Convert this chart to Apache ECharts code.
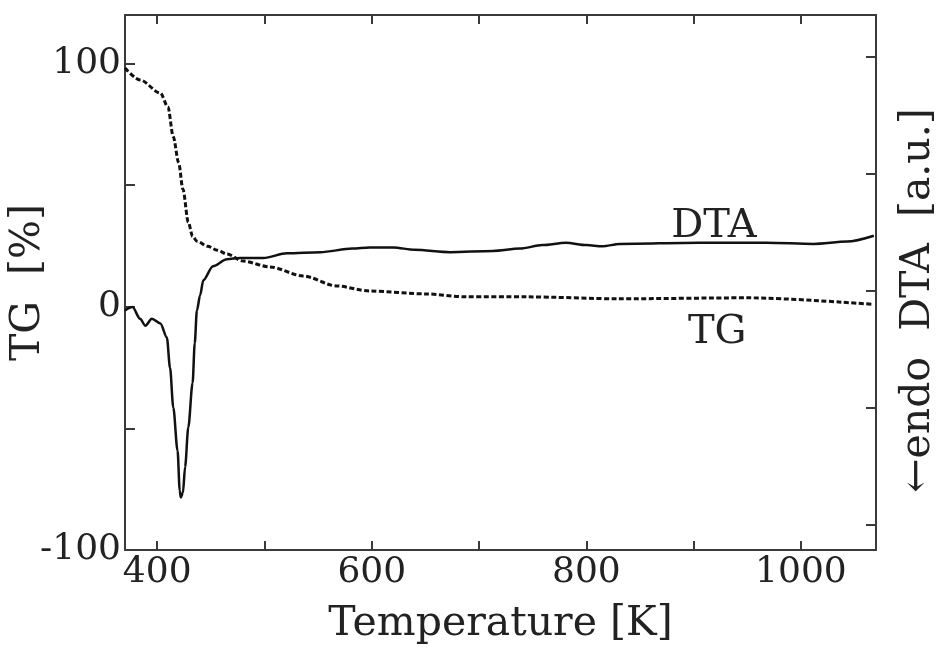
<!DOCTYPE html>
<html>
<head>
<meta charset="utf-8">
<script src="https://cdn.jsdelivr.net/npm/echarts@6/dist/echarts.min.js"></script>
<style>
  html, body { margin: 0; padding: 0; background: #fff; }
  #chart { width: 939px; height: 651px; }
</style>
</head>
<body>
<div id="chart"></div>
<script>
// TG curve (dashed), temperature in K, mass in %
var tgTemp = [370, 384, 403, 410, 415, 420, 424, 429, 433, 437, 447, 456, 465, 480, 505, 536, 567, 598, 651, 688, 744, 831, 950, 1068];
var tgValue = [98.2, 93.3, 87.9, 82.2, 69.9, 59.3, 48.3, 34.8, 29.0, 27.0, 24.9, 23.3, 21.7, 18.8, 16.4, 12.7, 8.6, 6.5, 5.3, 4.1, 4.1, 3.3, 3.7, 1.0];

// DTA curve (solid), arbitrary units on the right axis
var dtaTemp = [370, 377, 384, 389, 395, 403, 409, 412, 415, 419, 421, 422, 424, 426, 429, 433, 435, 437, 440, 443, 452, 465, 477, 499, 521, 552, 582, 598, 620, 640, 673, 713, 738, 759, 781, 800, 815, 831, 905, 968, 1012, 1043, 1068];
var dtaValue = [1.83, 1.86, 1.76, 1.70, 1.76, 1.72, 1.60, 1.34, 1.00, 0.63, 0.29, 0.23, 0.27, 0.49, 0.83, 1.21, 1.55, 1.83, 1.96, 2.09, 2.21, 2.27, 2.28, 2.28, 2.32, 2.33, 2.36, 2.37, 2.37, 2.35, 2.33, 2.34, 2.36, 2.39, 2.41, 2.39, 2.38, 2.40, 2.41, 2.41, 2.40, 2.42, 2.47];

var xLabels = [400, 600, 800, 1000];
var yLabels = [-100, 0, 100];

var font = 'DejaVu Serif';
var ink = '#222';
var frame = '#3a3a3a';

function pairs(xs, ys) {
    var out = [];
    for (var i = 0; i < xs.length; i++) {
        out.push([xs[i], ys[i]]);
    }
    return out;
}

var chart = echarts.init(document.getElementById('chart'));

var option = {
    backgroundColor: '#fff',
    animation: false,
    grid: {
        left: 125,
        right: 63,
        top: 15,
        bottom: 101,
        containLabel: false,
        outerBoundsMode: 'none'
    },
    xAxis: [
        {
            type: 'value',
            position: 'bottom',
            min: 370,
            max: 1070,
            splitNumber: 7,
            name: 'Temperature [K]',
            nameLocation: 'middle',
            nameGap: 54,
            nameTextStyle: { fontFamily: font, fontSize: 41, color: ink },
            axisLine: { show: true, onZero: false, lineStyle: { color: frame, width: 2 } },
            axisTick: { show: true, inside: true, length: 9, lineStyle: { color: frame, width: 2 } },
            splitLine: { show: false },
            axisLabel: {
                margin: 5,
                fontFamily: font,
                fontSize: 36,
                color: ink,
                formatter: function (v) {
                    return xLabels.indexOf(v) >= 0 ? String(v) : '';
                }
            }
        },
        {
            type: 'value',
            position: 'top',
            min: 370,
            max: 1070,
            splitNumber: 7,
            axisLine: { show: true, onZero: false, lineStyle: { color: frame, width: 2 } },
            axisTick: { show: true, inside: true, length: 9, lineStyle: { color: frame, width: 2 } },
            axisLabel: { show: false },
            splitLine: { show: false }
        }
    ],
    yAxis: [
        {
            type: 'value',
            position: 'left',
            min: -100,
            max: 120,
            interval: 50,
            name: 'TG  [%]',
            nameLocation: 'middle',
            nameGap: 76,
            nameMoveOverlap: false,
            nameTextStyle: { fontFamily: font, fontSize: 41, color: ink },
            axisLine: { show: true, onZero: false, lineStyle: { color: frame, width: 2 } },
            axisTick: { show: true, inside: true, length: 10, lineStyle: { color: frame, width: 2 } },
            splitLine: { show: false },
            axisLabel: {
                margin: 4,
                fontFamily: font,
                fontSize: 36,
                color: ink,
                formatter: function (v) {
                    return yLabels.indexOf(v) >= 0 ? String(v) : '';
                }
            }
        },
        {
            type: 'value',
            position: 'right',
            min: -0.22,
            max: 4.36,
            splitNumber: 5,
            name: '\u2190endo  DTA  [a.u.]',
            nameLocation: 'middle',
            nameGap: 22,
            nameRotate: 90,
            nameMoveOverlap: false,
            nameTextStyle: { fontFamily: font, fontSize: 41, color: ink, verticalAlign: 'top', padding: [0, 36, 0, 0] },
            axisLine: { show: true, onZero: false, lineStyle: { color: frame, width: 2 } },
            axisTick: { show: true, inside: true, length: 10, lineStyle: { color: frame, width: 2 } },
            axisLabel: { show: false },
            splitLine: { show: false }
        }
    ],
    series: [
        {
            name: 'TG',
            type: 'line',
            xAxisIndex: 0,
            yAxisIndex: 0,
            data: pairs(tgTemp, tgValue),
            showSymbol: false,
            smooth: 0.3,
            smoothMonotone: 'x',
            lineStyle: { color: '#111', width: 3, type: [5, 2.5] },
            markPoint: {
                symbol: 'rect',
                symbolSize: 1,
                itemStyle: { color: 'rgba(0,0,0,0)' },
                label: { show: true, formatter: 'TG', fontFamily: font, fontSize: 40, color: ink },
                data: [{ coord: [922, -10.5] }]
            }
        },
        {
            name: 'DTA',
            type: 'line',
            xAxisIndex: 0,
            yAxisIndex: 1,
            data: pairs(dtaTemp, dtaValue),
            showSymbol: false,
            smooth: 0.3,
            smoothMonotone: 'x',
            lineStyle: { color: '#111', width: 2.5 },
            markPoint: {
                symbol: 'rect',
                symbolSize: 1,
                itemStyle: { color: 'rgba(0,0,0,0)' },
                label: { show: true, formatter: 'DTA', fontFamily: font, fontSize: 40, color: ink },
                data: [{ coord: [919, 2.55] }]
            }
        }
    ]
};

chart.setOption(option);
</script>
</body>
</html>
